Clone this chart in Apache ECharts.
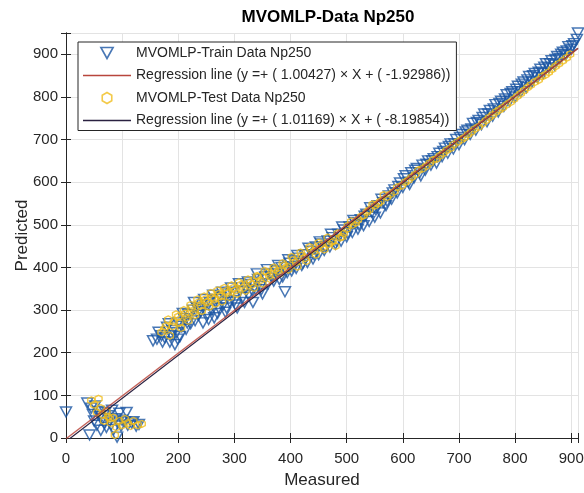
<!DOCTYPE html>
<html><head><meta charset="utf-8">
<script src="https://cdn.jsdelivr.net/npm/echarts@6/dist/echarts.min.js"></script>
<style>html,body{margin:0;padding:0;background:#fff}#c{width:584px;height:493px}</style>
</head><body><div id="c"></div>
<script>
const titleText = 'MVOMLP-Data Np250';
const xName = 'Measured';
const yName = 'Predicted';
const xMax = 912, yMax = 950;

const trainMeasured = [0,38,42,45,48,50,52,55,58,60,62,65,68,70,72,75,78,80,82,85,88,91,92,95,98,100,105,108,110,117,120,125,130,
 155,162,170,176,180,185,190,194,197,200,203,206,210,214,218,222,226,230,233,236,240,244,248,252,256,260,264,268,272,276,280,284,288,292,296,300,
 305,310,315,320,325,330,333,338,342,346,350,355,360,365,370,375,380,384,390,394,398,402,406,410,415,420,425,430,436,440,445,450,455,460,466,470,
 475,480,485,490,495,500,505,510,515,520,525,530,535,540,545,550,555,560,565,570,575,580,585,590,595,600,605,610,615,620,625,630,635,640,645,650,
 655,660,665,670,675,680,685,690,695,700,705,710,715,720,725,730,735,740,745,750,755,760,765,770,775,780,785,790,795,800,805,810,815,820,825,830,
 835,840,845,850,855,860,865,870,875,880,885,890,895,900,905,910,912,
 165,172,183,188,199,208,216,228,238,246,254,262,270,278,286,294,302,308,318,324,332,340,348,358,368,378,386,396,404,412,422,432,442,452,462,472,
 482,492,502,512,522,532,542,552,562,572,582,592,602,612,622,632,642,652,662,672,682,692,702,712,722,732,742,752,762,772,782,792,802,812,822,832,
 842,852,862,872,882,892,902];
const trainPredicted = [61,82,7,70,55,40,75,30,62,50,18,45,35,60,25,52,40,30,65,20,45,2,35,58,28,42,38,60,30,35,38,28,32,
 228,232,240,235,260,225,252,219,247,270,238,262,280,255,290,268,300,275,306,288,296,270,312,290,318,300,282,325,305,330,312,295,338,318,342,322,
 305,345,330,352,335,360,318,348,372,355,338,378,362,385,368,392,372,400,343,388,410,392,415,398,422,405,430,412,438,420,448,430,455,440,462,448,
 470,455,478,462,488,472,495,482,505,490,512,498,525,508,530,518,545,528,552,545,568,560,582,575,598,588,615,600,622,610,632,622,640,628,650,640,
 655,645,668,660,680,668,690,678,700,688,712,700,722,712,738,722,745,735,760,742,768,755,782,765,790,778,805,790,812,800,825,812,835,822,848,835,
 855,845,865,855,878,868,885,875,895,890,905,898,918,912,925,935,950,
 248,225,268,240,232,292,270,318,302,325,278,335,292,342,305,352,312,362,318,366,345,385,348,395,375,405,378,418,402,428,410,445,430,460,448,478,
 462,495,480,510,500,520,540,535,560,555,575,590,608,595,628,615,642,650,660,672,684,690,705,718,725,740,752,760,772,785,795,808,818,830,840,850,
 858,870,878,888,900,908,920];

const testMeasured = [45,50,55,58,62,65,68,72,75,78,80,84,87,90,95,100,105,110,115,120,128,135,
 170,178,185,192,200,205,212,218,224,230,236,242,248,255,260,266,272,278,285,292,298,305,312,320,328,335,342,350,358,365,372,380,388,396,
 405,412,420,428,436,445,452,460,468,473,480,488,495,502,510,520,530,540,550,560,572,585,598,610,622,635,648,660,672,685,698,710,722,735,
 748,760,772,785,798,810,822,835,848,860,872,885,898,
 175,182,190,196,202,210,215,222,228,234,240,246,252,258,264,270,276,282,288,295,302,308,316,324,332,340,346,354,362,370,378,386,394,402,410,418,
 426,434,442,450,458,466,475,484,492,500,508,516,526,536,546,556,566,578,590,604,616,628,642,654,666,678,690,704,716,728,742,754,766,778,792,804,
 816,828,842,854,866,878,892];
const testPredicted = [88,78,60,92,70,55,40,62,50,45,35,48,7,25,40,30,45,35,28,40,30,33,
 248,262,240,272,285,258,292,275,305,288,318,298,325,308,330,315,338,320,345,330,352,338,360,345,365,352,378,362,388,372,395,385,405,395,
 418,402,428,415,442,430,452,442,455,459,450,470,480,498,500,512,522,535,545,555,565,578,592,605,618,632,645,655,668,680,695,705,718,730,
 745,758,770,782,795,808,822,835,848,858,872,885,900,
 255,278,262,290,270,300,282,312,295,325,310,332,318,340,325,346,332,352,340,358,346,365,352,372,360,380,370,392,380,400,392,410,402,425,412,435,
 422,448,438,458,448,470,462,480,472,490,508,505,520,530,548,550,570,572,588,600,612,628,638,652,662,675,688,700,712,725,738,752,765,775,788,802,
 815,828,840,852,865,878,892];

const trainSlope = 1.00427, trainIntercept = -1.92986;
const testSlope = 1.01169, testIntercept = -8.19854;

const zip = (a,b) => a.map((v,i)=>[v,b[i]]);
const lineData = (s,c) => [[0, c], [xMax, s*xMax + c]];

const blue = '#1a55a2', yellow = '#f0bd1c';
const redLine = '#b8463c', darkLine = '#2a2140';
const triPath = 'path://M0,0 L10,0 L5,9 Z';
const hexPath = 'path://M5,0 L9.33,2.5 L9.33,7.5 L5,10 L0.67,7.5 L0.67,2.5 Z';
const barPath = 'path://M0,0 L48,0 L48,1.4 L0,1.4 Z';
const names = ['MVOMLP-Train Data Np250',
  'Regression line (y =+ ( 1.00427) \u00d7 X + ( -1.92986))',
  'MVOMLP-Test Data Np250',
  'Regression line (y =+ ( 1.01169) \u00d7 X + ( -8.19854))'];

const font = 'Liberation Sans, Arial, sans-serif';
const axisCol = '#262626';
const fmt = v => (v % 100 === 0 ? String(v) : '');

const chart = echarts.init(document.getElementById('c'), null, {renderer:'canvas'});
chart.setOption({
  animation:false,
  backgroundColor:'#fff',
  title:{text:titleText, left:323, top:4, textAlign:'center',
    textStyle:{fontFamily:font, fontSize:17, fontWeight:'bold', color:'#000'}},
  grid:{left:66, right:6, top:33, bottom:55, containLabel:false, outerBoundsMode:'none'},
  legend:{
    orient:'vertical', left:78, top:42, padding:[4,6,3,5],
    backgroundColor:'#fff', borderColor:'#262626', borderWidth:1,
    itemWidth:48, itemHeight:11, itemGap:8.5,
    textStyle:{fontFamily:font, fontSize:14, color:'#262626'},
    data:[
      {name:names[0], icon:triPath, itemStyle:{color:'rgba(0,0,0,0)', borderColor:blue, borderWidth:1.6}},
      {name:names[1], icon:barPath, itemStyle:{color:redLine, borderWidth:0}},
      {name:names[2], icon:hexPath, itemStyle:{color:'rgba(0,0,0,0)', borderColor:yellow, borderWidth:1.6}},
      {name:names[3], icon:barPath, itemStyle:{color:darkLine, borderWidth:0}}
    ]
  },
  xAxis:[{
    type:'value', min:0, max:xMax, interval:100,
    name:xName, nameLocation:'middle', nameGap:34, nameMoveOverlap:false,
    nameTextStyle:{fontFamily:font, fontSize:17, color:axisCol},
    axisLine:{show:true, lineStyle:{color:axisCol, width:1}},
    axisTick:{show:true, inside:true, length:5, lineStyle:{color:axisCol}},
    axisLabel:{formatter:fmt, fontFamily:font, fontSize:15, color:axisCol, margin:13},
    splitLine:{show:true, lineStyle:{color:'#e3e3e3', width:1}}
  },{
    type:'value', min:0, max:xMax, interval:100, position:'top',
    axisLine:{show:true, lineStyle:{color:axisCol, width:1}},
    axisTick:{show:true, inside:true, length:5, lineStyle:{color:axisCol}},
    axisLabel:{show:false}, splitLine:{show:false}
  }],
  yAxis:[{
    type:'value', min:0, max:yMax, interval:100,
    name:yName, nameLocation:'middle', nameGap:35, nameRotate:90, nameMoveOverlap:false,
    nameTextStyle:{fontFamily:font, fontSize:17, color:axisCol},
    axisLine:{show:true, lineStyle:{color:axisCol, width:1}},
    axisTick:{show:true, inside:true, length:5, lineStyle:{color:axisCol}},
    axisLabel:{formatter:fmt, fontFamily:font, fontSize:15, color:axisCol, margin:8},
    splitLine:{show:true, lineStyle:{color:'#e3e3e3', width:1}}
  },{
    type:'value', min:0, max:yMax, interval:100, position:'right',
    axisLine:{show:true, lineStyle:{color:axisCol, width:1}},
    axisTick:{show:true, inside:true, length:5, lineStyle:{color:axisCol}},
    axisLabel:{show:false}, splitLine:{show:false}
  }],
  series:[
    {name:names[0], type:'scatter', data:zip(trainMeasured, trainPredicted),
      symbol:triPath, symbolSize:[11,10],
      itemStyle:{color:'rgba(0,0,0,0)', borderColor:blue, borderWidth:1.5}},
    {name:names[2], type:'scatter', data:zip(testMeasured, testPredicted),
      symbol:hexPath, symbolSize:7,
      itemStyle:{color:'rgba(0,0,0,0)', borderColor:yellow, borderWidth:1.4}},
    {name:names[3], type:'line', data:lineData(testSlope, testIntercept),
      symbol:'none', lineStyle:{color:darkLine, width:1.2}, itemStyle:{color:darkLine}},
    {name:names[1], type:'line', data:lineData(trainSlope, trainIntercept),
      symbol:'none', lineStyle:{color:redLine, width:1.3, opacity:0.85}, itemStyle:{color:redLine}}
  ]
});
</script></body></html>
